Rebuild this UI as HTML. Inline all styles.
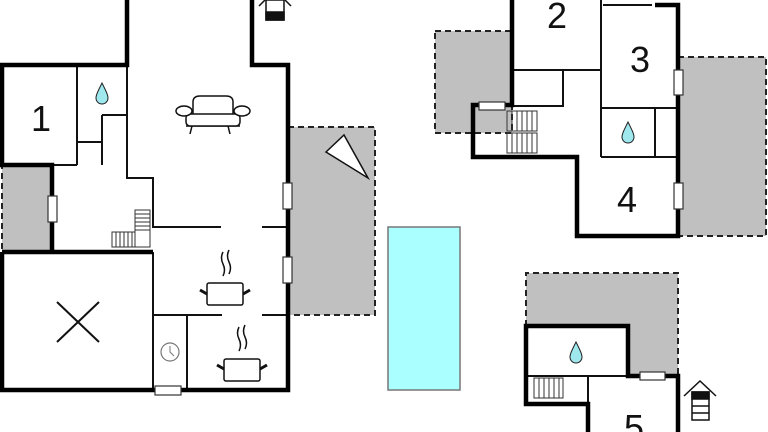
<!DOCTYPE html>
<html><head><meta charset="utf-8"><style>
html,body{margin:0;padding:0;background:#fff;width:768px;height:432px;overflow:hidden}
svg{display:block}
text{font-family:"Liberation Sans",sans-serif;font-size:36px;fill:#111;text-anchor:middle}
</style></head><body>
<svg width="768" height="432" viewBox="0 0 768 432" xmlns="http://www.w3.org/2000/svg">
<!-- gray areas -->
<g fill="#c0c0c0" stroke="#222" stroke-width="2" stroke-dasharray="6,4">
<rect x="288" y="127" width="87" height="188"/>
<rect x="2" y="165" width="50" height="87"/>
<rect x="435" y="31" width="77" height="102"/>
<rect x="678" y="57" width="88" height="179"/>
<path d="M526 326 V273 H678 V376 H628 V326 Z"/>
</g>
<!-- pool -->
<rect x="388" y="227" width="72" height="163" fill="#aaffff" stroke="#777" stroke-width="1.5"/>

<!-- thin walls -->
<g fill="none" stroke="#111" stroke-width="2">
<path d="M77 65 V165 M2 165 H77 M77 142 H102 M102 115 H127 V165 M102 115 V165 M77 165 V165"/>
<path d="M127 65 V178 H153 V227 H221 M262 227 H288"/>
<path d="M153 252 V390 M153 315 H222 M262 315 H288 M187 315 V390"/>
<path d="M512 70 H601 M563 70 V106 H512 M601 0 V157 M601 108 H678 M655 108 V157 M601 157 H678 M603 5 H652"/>
<path d="M526 376 H628 M588 376 V404"/>
</g>
<!-- thick walls -->
<g fill="none" stroke="#000" stroke-width="4.5" stroke-linejoin="miter">
<path d="M127 0 V65 H2 V165 H52 V252"/>
<path d="M2 252 V390 H288 V65 H252 V0"/>
<path d="M2 252 H153"/>
<path d="M512 0 V105 H473 V157 H577 V236 H678 V5 H655"/>
<path d="M588 432 V404 H526 V326 H628 V376 H678 V432"/>
</g>
<!-- X -->
<path d="M57 302 L99 342 M99 302 L57 342" stroke="#111" stroke-width="2"/>
<!-- windows -->
<g fill="#fff" stroke="#333" stroke-width="1.2">
<rect x="283" y="183" width="9" height="26"/>
<rect x="283" y="257" width="9" height="26"/>
<rect x="48" y="196" width="9" height="26"/>
<rect x="155" y="386" width="26" height="9"/>
<rect x="479" y="102" width="26" height="8"/>
<rect x="674" y="70" width="9" height="25"/>
<rect x="674" y="183" width="9" height="26"/>
<rect x="640" y="372" width="25" height="8"/>
</g>
<!-- stairs -->
<g fill="none" stroke="#333" stroke-width="1">
<rect x="135" y="210" width="15" height="37"/>
<path d="M135 214 H150 M135 218 H150 M135 222 H150 M135 226 H150 M135 230 H150"/>
<rect x="112" y="232" width="23" height="15"/>
<path d="M116 232 V247 M120 232 V247 M124 232 V247 M128 232 V247 M132 232 V247"/>
<rect x="507" y="111" width="30" height="20"/><rect x="507" y="133" width="30" height="20"/>
<path d="M512 111 V131 M517 111 V131 M522 111 V131 M527 111 V131 M532 111 V131 M512 133 V153 M517 133 V153 M522 133 V153 M527 133 V153 M532 133 V153"/>
<rect x="534" y="378" width="29" height="20"/>
<path d="M539 378 V398 M544 378 V398 M549 378 V398 M554 378 V398 M559 378 V398"/>
</g>
<!-- drops -->
<g fill="#9ee8ee" stroke="#222" stroke-width="1">
<path d="M102 83 C98 91 96 95 96 98 A6 6 0 0 0 108 98 C108 95 106 91 102 83 Z"/>
<path d="M628 122 C624 130 622 134 622 137 A6 6 0 0 0 634 137 C634 134 632 130 628 122 Z"/>
<path d="M576 342 C572 350 570 354 570 357 A6 6 0 0 0 582 357 C582 354 580 350 576 342 Z"/>
</g>
<!-- sofa -->
<g fill="#fff" stroke="#111" stroke-width="1.5">
<path d="M193 117 V102 Q193 96 200 96 H226 Q233 96 233 102 V117"/>
<path d="M186 126 H240 M192 126 L190 134 M228 126 L230 134"/>
<rect x="186" y="114" width="54" height="12" rx="4"/>
<ellipse cx="184" cy="111" rx="8" ry="5"/><ellipse cx="242" cy="111" rx="8" ry="5"/>
</g>
<!-- triangle -->
<polygon points="326,152 344,135 368,178" fill="#fff" stroke="#111" stroke-width="1.5"/>
<!-- pots -->
<g fill="#fff" stroke="#111" stroke-width="1.5">
<rect x="207" y="283" width="36" height="22" rx="2"/>
<path d="M200 290 L207 294 M250 290 L243 294" stroke-width="3"/>
<path d="M223 252 q-3 6 0 12 q3 6 0 12 M229 250 q-3 6 0 12 q3 6 0 12"/>
<rect x="224" y="359" width="36" height="22" rx="2"/>
<path d="M217 365 L224 369 M267 365 L260 369" stroke-width="3"/>
<path d="M239 327 q-3 6 0 12 q3 6 0 12 M245 325 q-3 6 0 12 q3 6 0 12"/>
</g>
<!-- clock -->
<circle cx="170" cy="352" r="9" fill="none" stroke="#777" stroke-width="1.2"/>
<path d="M170 346 V352 L174 356" fill="none" stroke="#777" stroke-width="1"/>
<!-- entry icons -->
<g fill="none" stroke="#111" stroke-width="1.5">
<path d="M259 6 L265 0 M285 0 L291 6"/>
<rect x="266" y="0" width="18" height="20"/>
<rect x="266" y="12" width="18" height="8" fill="#111"/>
<path d="M684 396 L700 381 L716 396"/>
<rect x="692" y="392" width="17" height="28" fill="#fff"/>
<rect x="692" y="392" width="17" height="7" fill="#111"/>
<path d="M692 406 H709 M692 413 H709"/>
</g>
<!-- numbers -->
<text x="41" y="131">1</text>
<text x="557" y="28">2</text>
<text x="640" y="72">3</text>
<text x="627" y="212">4</text>
<text x="634" y="440">5</text>
</svg>
</body></html>
